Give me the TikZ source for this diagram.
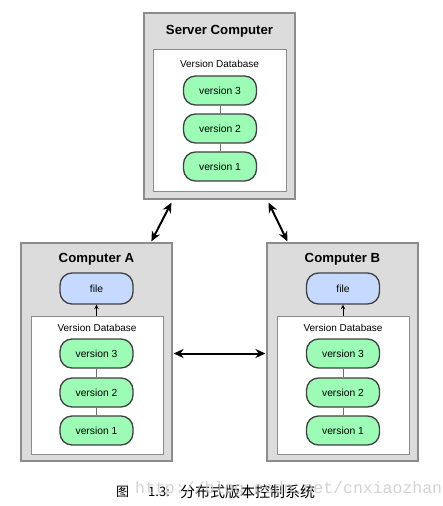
\documentclass[tikz,border=0pt]{standalone}
\usepackage{fontspec}
\setmainfont{Liberation Sans}
\newfontfamily\cjk{Noto Sans CJK SC}
\newfontfamily\wmfont{Liberation Mono}
\usetikzlibrary{arrows.meta,calc}
\definecolor{boxgray}{HTML}{DCDCDC}
\definecolor{boxedge}{HTML}{8C8C8C}
\definecolor{pillgreen}{HTML}{9CFCB6}
\definecolor{pillblue}{HTML}{C6D9FF}
\definecolor{pilledge}{HTML}{404040}
\definecolor{linkgray}{HTML}{707070}
\definecolor{wmgray}{HTML}{C8C8C8}
\tikzset{
  outerbox/.style={draw=boxedge,fill=boxgray,line width=1.2pt,minimum width=151pt,inner sep=0pt},
  innerbox/.style={draw=boxedge,fill=white,line width=0.9pt,minimum width=132pt,inner sep=0pt},
  pill/.style={draw=pilledge,fill=pillgreen,line width=1.3pt,rounded corners=12pt,minimum width=73pt,minimum height=29pt,inner sep=0pt,font=\fontsize{10.3}{12}\selectfont},
  filepill/.style={pill,fill=pillblue,minimum height=31pt},
  titletext/.style={font=\fontsize{13.2}{15}\selectfont\bfseries},
  dbtext/.style={font=\fontsize{10}{12}\selectfont},
  link/.style={draw=linkgray,line width=0.8pt},
  sync/.style={{Stealth[length=10pt,width=9pt]}-{Stealth[length=10pt,width=9pt]},line width=2pt},
  checkout/.style={-{Stealth[length=4.5pt,width=4.5pt]},line width=0.9pt}
}
\begin{document}
\begin{tikzpicture}[x=1pt,y=-1pt]
\useasboundingbox (0,0) rectangle (442,506);
% Server
\node[outerbox,minimum height=186pt] (server) at (219.5,106) {};
\node[innerbox,minimum width=133pt,minimum height=142pt] (sdb) at (219.5,120) {};
\node[titletext] (stitle) at (219.5,31) {Server Computer};
\node[dbtext] (sdbl) at (219.5,64) {Version Database};
\node[pill] (s3) at (220,90.5) {version 3};
\node[pill] (s2) at (220,128.5) {version 2};
\node[pill] (s1) at (220,166.5) {version 1};
\draw[link] (s3.south) -- (s2.north);
\draw[link] (s2.south) -- (s1.north);
% Computer A
\node[outerbox,minimum height=218pt] (A) at (96.5,352) {};
\node[innerbox,minimum height=138pt] (adb) at (97,385) {};
\node[titletext] (atitle) at (96.5,259) {Computer A};
\node[filepill] (afile) at (96.5,288.5) {file};
\node[dbtext] (adbl) at (97,328) {Version Database};
\node[pill] (a3) at (96.5,353.5) {version 3};
\node[pill] (a2) at (96.5,392.5) {version 2};
\node[pill] (a1) at (96.5,430.5) {version 1};
\draw[link] (a3.south) -- (a2.north);
\draw[link] (a2.south) -- (a1.north);
\draw[checkout] (adb.north -| afile.south) -- (afile.south);
% Computer B
\node[outerbox,minimum height=218pt] (B) at (342.5,352) {};
\node[innerbox,minimum height=138pt] (bdb) at (343,385) {};
\node[titletext] (btitle) at (342.5,259) {Computer B};
\node[filepill] (bfile) at (343,288.5) {file};
\node[dbtext] (bdbl) at (343,328) {Version Database};
\node[pill] (b3) at (343,353.5) {version 3};
\node[pill] (b2) at (343,392.5) {version 2};
\node[pill] (b1) at (343,430.5) {version 1};
\draw[link] (b3.south) -- (b2.north);
\draw[link] (b2.south) -- (b1.north);
\draw[checkout] (bdb.north -| bfile.south) -- (bfile.south);
% sync arrows
\draw[sync] ([xshift=28pt,yshift=-3pt]server.south west) -- ([xshift=131pt,yshift=1pt]A.north west);
\draw[sync] ([xshift=-27pt,yshift=-3pt]server.south east) -- ([xshift=21pt,yshift=1pt]B.north west);
\draw[sync] ([xshift=1pt]A.east |- a3.center) -- ([xshift=-1pt]B.west |- b3.center);
% caption
\node[anchor=west,font=\cjk\fontsize{13}{15}\selectfont,inner sep=0pt] (cap1) at (116,492) {图};
\node[anchor=west,font=\cjk\fontsize{13}{15}\selectfont,inner sep=0pt] (cap2) at (148,492) {1.3:};
\node[anchor=west,font=\cjk\fontsize{15}{17}\selectfont,inner sep=0pt] (cap3) at (180,492) {分布式版本控制系统};
\node[anchor=west,font=\wmfont\fontsize{16.5}{18}\selectfont,text=wmgray,inner sep=0pt,opacity=0.8] (wm) at (135,489) {http://blog.csdn.net/cnxiaozhan};
\end{tikzpicture}
\end{document}
